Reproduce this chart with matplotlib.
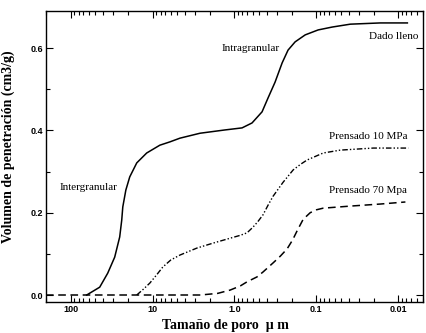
import numpy as np
import matplotlib
matplotlib.use("Agg")
from matplotlib import pyplot as plt
from matplotlib.ticker import LogLocator, NullFormatter, MultipleLocator

# pore size (um) and penetration volume (cm3/g)
size_lleno = [63.7, 44.2, 35.3, 29.0, 25.2, 23.8, 23.1, 21.2, 19.0, 15.6, 11.8, 8.15, 6.15,
              4.64, 2.64, 1.31, 0.809, 0.611, 0.461, 0.389, 0.320, 0.262, 0.222, 0.182,
              0.137, 0.0953, 0.0642, 0.0386, 0.0166, 0.00776]
vol_lleno = [0.0, 0.019, 0.053, 0.092, 0.141, 0.182, 0.214, 0.255, 0.287, 0.321, 0.345, 0.364,
             0.372, 0.381, 0.393, 0.401, 0.406, 0.418, 0.445, 0.479, 0.517, 0.564, 0.595,
             0.615, 0.632, 0.644, 0.651, 0.658, 0.661, 0.661]

size_10 = [15.6, 12.8, 10.8, 9.0, 7.5, 6.0, 4.64, 2.88, 1.83, 1.13, 0.85, 0.703, 0.594, 0.52,
           0.448, 0.39, 0.338, 0.255, 0.192, 0.155, 0.130, 0.0826, 0.0512, 0.0202, 0.00755]
vol_10 = [0.0, 0.015, 0.029, 0.048, 0.068, 0.085, 0.097, 0.114, 0.126, 0.138, 0.145, 0.151,
          0.165, 0.178, 0.195, 0.218, 0.240, 0.274, 0.304, 0.318, 0.328, 0.345, 0.352, 0.357,
          0.357]

size_70 = [200, 2.6, 1.6, 1.13, 0.85, 0.703, 0.531, 0.448, 0.338, 0.277, 0.228, 0.195, 0.172,
           0.145, 0.119, 0.100, 0.0826, 0.0386, 0.0166, 0.0082]
vol_70 = [0.0, 0.0, 0.004, 0.012, 0.022, 0.032, 0.044, 0.056, 0.078, 0.094, 0.112, 0.134,
          0.156, 0.184, 0.200, 0.207, 0.211, 0.216, 0.221, 0.226]

xticks = [100, 10, 1, 0.1, 0.01]
xticklabels = ["100", "10", "1.0", "0.1", "0.01"]
yticks = [0.0, 0.2, 0.4, 0.6]
yticklabels = ["0.0", "0.2", "0.4", "0.6"]

serif = "Liberation Serif"
sans = "Liberation Sans"

fig = plt.figure(figsize=(4.27, 3.33), dpi=100)
ax = fig.add_axes([46/427, 31/333, 377/427, 291/333])

ax.plot(size_lleno, vol_lleno, color="black", lw=1.1)
ax.plot(size_10, vol_10, color="black", lw=1.0, dashes=(4, 1.5, 1, 1.5, 1, 1.5))
ax.plot(size_70, vol_70, color="black", lw=1.1, dashes=(5, 3))

ax.set_xscale("log")
ax.set_xlim(200, 0.005)
ax.set_ylim(-0.017, 0.69)

ax.set_xticks(xticks)
ax.set_xticklabels(xticklabels)
ax.xaxis.set_minor_locator(LogLocator(base=10, subs=np.arange(2, 10)))
ax.xaxis.set_minor_formatter(NullFormatter())
ax.set_yticks(yticks)
ax.set_yticklabels(yticklabels)
ax.yaxis.set_minor_locator(MultipleLocator(0.1))

ax.tick_params(which="both", direction="in", top=True, right=True, width=0.8,
               labelsize=6.5, pad=2)
ax.tick_params(which="major", length=5)
ax.tick_params(which="minor", length=3)
for lab in ax.get_xticklabels() + ax.get_yticklabels():
    lab.set_fontfamily(sans)
    lab.set_fontweight("bold")
for s in ax.spines.values():
    s.set_linewidth(1.0)

ax.set_xlabel("Tamaño de poro  µ m", family=serif, fontweight="bold", fontsize=10)
ax.set_ylabel("Volumen de penetración (cm3/g)", family=serif, fontweight="bold", fontsize=10)
ax.xaxis.set_label_coords(0.477, -0.058)
ax.yaxis.set_label_coords(-0.082, 0.533)

ax.text(136, 0.26, "Intergranular", family=serif, fontsize=8, ha="left", va="center")
ax.text(1.42, 0.60, "Intragranular", family=serif, fontsize=8, ha="left", va="center")
ax.text(0.0057, 0.627, "Dado lleno", family=serif, fontsize=8, ha="right", va="center")
ax.text(0.0078, 0.384, "Prensado 10 MPa", family=serif, fontsize=8, ha="right", va="center")
ax.text(0.0078, 0.253, "Prensado 70 Mpa", family=serif, fontsize=8, ha="right", va="center")

fig.savefig("out.png", dpi=100)
